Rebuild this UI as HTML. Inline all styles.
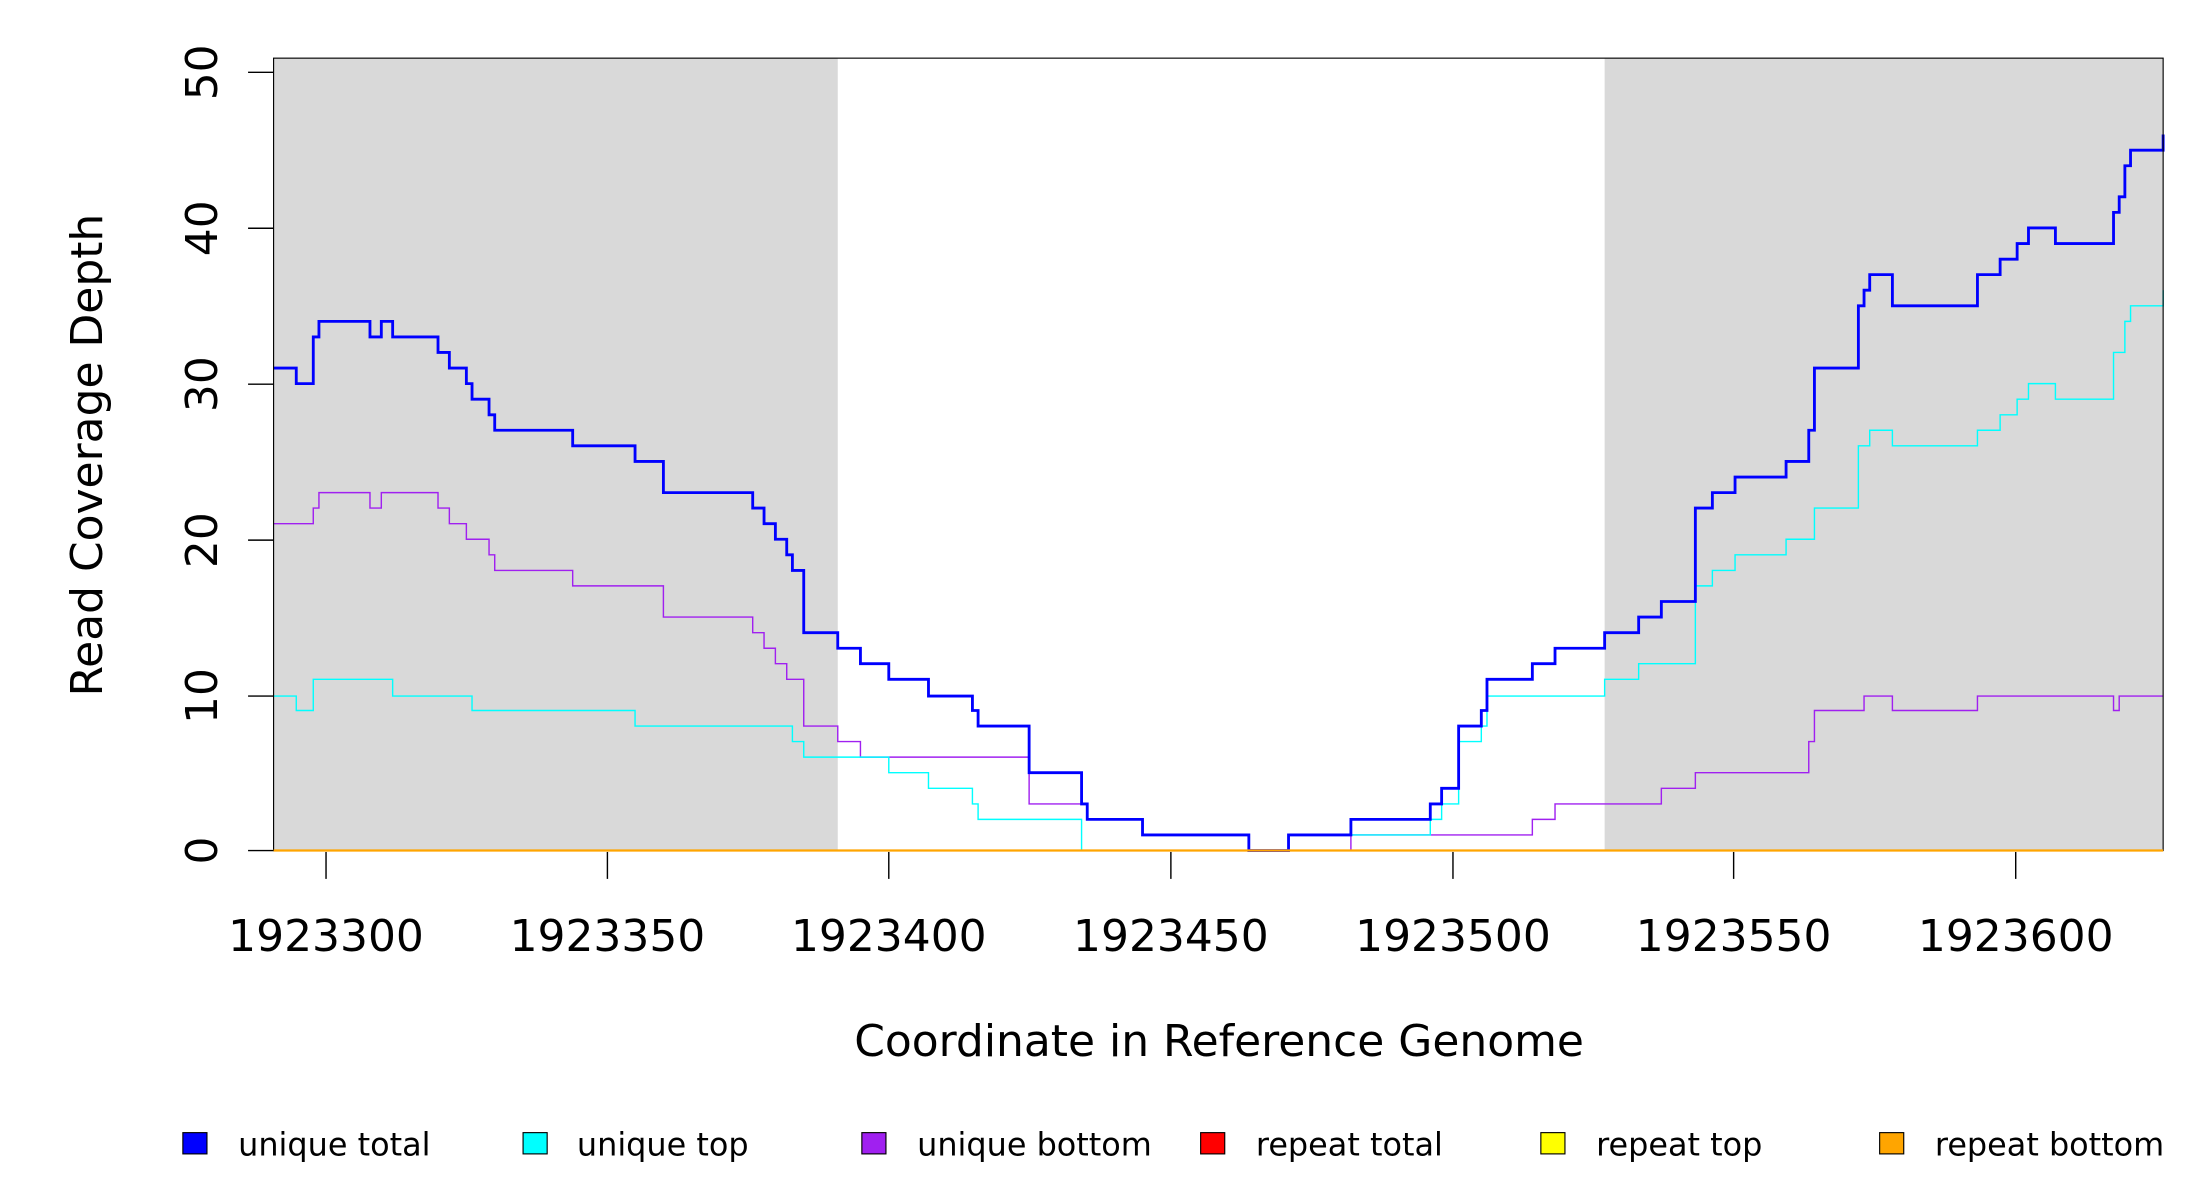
<!DOCTYPE html>
<html><head><meta charset="utf-8"><style>
html,body{margin:0;padding:0;background:#fff;width:2200px;height:1200px;overflow:hidden}
svg{display:block}
text{font-family:"DejaVu Sans","Liberation Sans",sans-serif;fill:#000}
</style></head><body>
<svg width="2200" height="1200" viewBox="0 0 1552 846.5" xmlns="http://www.w3.org/2000/svg">
<rect x="193" y="41" width="398" height="559" fill="#d9d9d9"/>
<rect x="1132" y="41" width="394" height="559" fill="#d9d9d9"/>
<g fill="none" stroke-linejoin="miter">
<path stroke="#a020f0" stroke-width="1" d="M193,369.4 H221 V358.4 H225 V347.5 H261 V358.4 H269 V347.5 H309 V358.4 H317 V369.4 H329 V380.4 H345 V391.4 H349 V402.4 H404 V413.3 H468 V435.3 H531 V446.3 H539 V457.3 H547 V468.2 H555 V479.2 H567 V512.2 H591 V523.1 H607 V534.1 H726 V567.1 H767 V578 H806 V589 H881 V600 H953 V589 H1081 V578 H1097 V567.1 H1172 V556.1 H1196 V545.1 H1276 V523.1 H1280 V501.2 H1315 V491 H1335 V501.2 H1395 V491 H1491 V501.2 H1495 V491 H1526"/>
<path stroke="#00ffff" stroke-width="1" d="M193,491 H209 V501.2 H221 V479.2 H277 V491 H333 V501.2 H448 V512.2 H559 V523.1 H567 V534.1 H627 V545.1 H655 V556.1 H686 V567.1 H690 V578 H763 V600 H909 V589 H1009 V578 H1017 V567.1 H1029 V523.1 H1045 V512.2 H1049 V491 H1132 V479.2 H1156 V468.2 H1196 V413.3 H1208 V402.4 H1224 V391.4 H1260 V380.4 H1280 V358.4 H1311 V314.5 H1319 V303.5 H1335 V314.5 H1395 V303.5 H1411 V292.6 H1423 V281.6 H1431 V270.6 H1450 V281.6 H1491 V248.6 H1499 V226.7 H1503 V215.7 H1526 V204.7"/>
<path stroke="#0000ff" stroke-width="2" d="M193,259.6 H209 V270.6 H221 V237.7 H225 V226.7 H261 V237.7 H269 V226.7 H277 V237.7 H309 V248.6 H317 V259.6 H329 V270.6 H333 V281.6 H345 V292.6 H349 V303.5 H404 V314.5 H448 V325.5 H468 V347.5 H531 V358.4 H539 V369.4 H547 V380.4 H555 V391.4 H559 V402.4 H567 V446.3 H591 V457.3 H607 V468.2 H627 V479.2 H655 V491 H686 V501.2 H690 V512.2 H726 V545.1 H763 V567.1 H767 V578 H806 V589 H881 V600 H909 V589 H953 V578 H1009 V567.1 H1017 V556.1 H1029 V512.2 H1045 V501.2 H1049 V479.2 H1081 V468.2 H1097 V457.3 H1132 V446.3 H1156 V435.3 H1172 V424.3 H1196 V358.4 H1208 V347.5 H1224 V336.5 H1260 V325.5 H1276 V303.5 H1280 V259.6 H1311 V215.7 H1315 V204.7 H1319 V193.7 H1335 V215.7 H1395 V193.7 H1411 V182.8 H1423 V171.8 H1431 V160.8 H1450 V171.8 H1491 V149.8 H1495 V138.8 H1499 V116.9 H1503 V105.9 H1526 V94.9"/>
</g>
<rect x="193" y="41" width="1333" height="559" fill="none" stroke="#000" stroke-width="0.8"/>
<line x1="193" y1="600" x2="1526" y2="600" stroke="#ffa500" stroke-width="1.6"/>
<g stroke="#000" stroke-width="1">
<line x1="175" y1="600" x2="193" y2="600"/><line x1="175" y1="491" x2="193" y2="491"/><line x1="175" y1="381" x2="193" y2="381"/><line x1="175" y1="271" x2="193" y2="271"/><line x1="175" y1="161" x2="193" y2="161"/><line x1="175" y1="51" x2="193" y2="51"/>
<line x1="230" y1="601" x2="230" y2="620"/><line x1="428.5" y1="601" x2="428.5" y2="620"/><line x1="627" y1="601" x2="627" y2="620"/><line x1="826" y1="601" x2="826" y2="620"/><line x1="1025" y1="601" x2="1025" y2="620"/><line x1="1223" y1="601" x2="1223" y2="620"/><line x1="1422" y1="601" x2="1422" y2="620"/>
</g>
<g font-size="31" text-anchor="middle">
<text transform="translate(153,600) rotate(-90)">0</text>
<text transform="translate(153,491) rotate(-90)">10</text>
<text transform="translate(153,381) rotate(-90)">20</text>
<text transform="translate(153,271) rotate(-90)">30</text>
<text transform="translate(153,161) rotate(-90)">40</text>
<text transform="translate(153,51) rotate(-90)">50</text>
<text x="230" y="671">1923300</text><text x="428.5" y="671">1923350</text><text x="627" y="671">1923400</text><text x="826" y="671">1923450</text><text x="1025" y="671">1923500</text><text x="1223" y="671">1923550</text><text x="1422" y="671">1923600</text>
<text x="860" y="745">Coordinate in Reference Genome</text>
<text transform="translate(72,321) rotate(-90)">Read Coverage Depth</text>
</g>
<g stroke="#000" stroke-width="0.8">
<rect x="129" y="799" width="17" height="15" fill="#0000ff"/>
<rect x="369" y="799" width="17" height="15" fill="#00ffff"/>
<rect x="608" y="799" width="17" height="15" fill="#a020f0"/>
<rect x="847" y="799" width="17" height="15" fill="#ff0000"/>
<rect x="1087" y="799" width="17" height="15" fill="#ffff00"/>
<rect x="1326" y="799" width="17" height="15" fill="#ffa500"/>
</g>
<g font-size="22.5">
<text x="168" y="815">unique total</text>
<text x="407" y="815">unique top</text>
<text x="647" y="815">unique bottom</text>
<text x="886" y="815">repeat total</text>
<text x="1126" y="815">repeat top</text>
<text x="1365" y="815">repeat bottom</text>
</g>
</svg>
</body></html>
